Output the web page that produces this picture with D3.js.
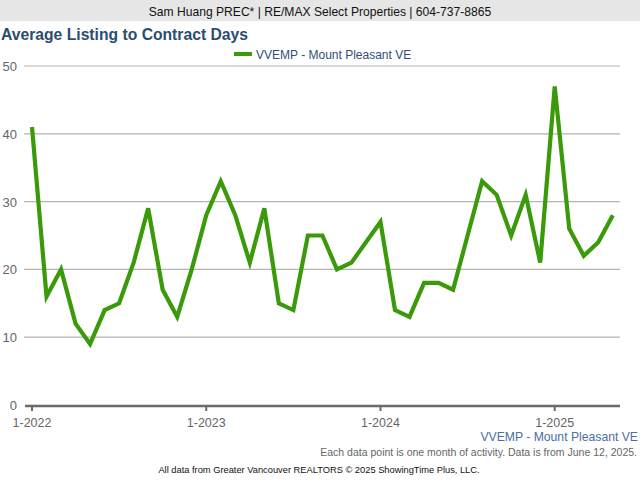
<!DOCTYPE html>
<html><head><meta charset="utf-8">
<script src="https://cdn.jsdelivr.net/npm/d3@7"></script>
<style>body{margin:0;background:#fff}svg{display:block;font-family:Arial,"Liberation Sans",sans-serif}</style>
</head><body><svg id="c" width="640" height="480"></svg>
<script>
const seriesName = "VVEMP - Mount Pleasant VE";
const startYear = 2022;
const values = [41,16,20,12,9,14,15,21,29,17,13,20,28,33,28,21,29,15,14,25,25,20,21,24,27,14,13,18,18,17,25,33,31,25,31,21,47,26,22,24,28];
const yTicks = [0,10,20,30,40,50];
const xTickLabels = ["1-2022","1-2023","1-2024","1-2025"];

(function(){
const svg = d3.select("#c");
const W = 640, H = 480;
const pLeft = 24, pRight = 620, pTop = 66, pBottom = 405;

svg.append("rect").attr("x",0).attr("y",0).attr("width",W).attr("height",21).attr("fill","#e6e6e6");
svg.append("text").attr("x",320).attr("y",15.5).attr("text-anchor","middle").attr("font-size",12.1).attr("fill","#111")
  .text("Sam Huang PREC* | RE/MAX Select Properties | 604-737-8865");
svg.append("text").attr("x",1).attr("y",40).attr("font-size",15.7).attr("font-weight","bold").attr("fill","#2b4d72")
  .text("Average Listing to Contract Days");
svg.append("rect").attr("x",234).attr("y",52).attr("width",18).attr("height",4).attr("fill","#3a9a0a");
svg.append("text").attr("x",256).attr("y",58.5).attr("font-size",12).attr("fill","#2f4f7a").text(seriesName);

const x = d3.scaleLinear().domain([0,41]).range([32, 32 + 41*14.52]);
const y = d3.scaleLinear().domain([0,50]).range([pBottom, pTop]);

const g = svg.append("g");
g.selectAll("line.grid").data(yTicks.filter(d=>d>0)).join("line").attr("class","grid")
  .attr("x1",pLeft).attr("x2",pRight).attr("y1",d=>y(d)).attr("y2",d=>y(d))
  .attr("stroke","#b4b4b4").attr("stroke-width",1.2);
g.selectAll("text.yl").data(yTicks).join("text").attr("class","yl")
  .attr("x",17).attr("y",d=>y(d)+5).attr("text-anchor","end").attr("font-size",13).attr("fill","#666").text(d=>d);

g.append("line").attr("x1",pLeft+1).attr("x2",pRight).attr("y1",pBottom+1).attr("y2",pBottom+1).attr("stroke","#6a6a6a").attr("stroke-width",2.5);
const tickIdx = xTickLabels.map((d,i)=>i*12);
g.selectAll("line.xt").data(tickIdx).join("line").attr("class","xt")
  .attr("x1",d=>x(d)).attr("x2",d=>x(d)).attr("y1",pBottom).attr("y2",pBottom+6).attr("stroke","#6a6a6a").attr("stroke-width",2);
g.selectAll("text.xl").data(xTickLabels).join("text").attr("class","xl")
  .attr("x",(d,i)=>x(i*12)).attr("y",pBottom+22).attr("text-anchor","middle").attr("font-size",12.5).attr("fill","#666").text(d=>d);

const line = d3.line().x((d,i)=>x(i)).y(d=>y(d));
g.append("path").datum(values).attr("d",line).attr("fill","none").attr("stroke","#3a9a0a").attr("stroke-width",4.2).attr("stroke-linejoin","miter");

svg.append("text").attr("x",638).attr("y",441).attr("text-anchor","end").attr("font-size",12.2).attr("fill","#4a70a4").text(seriesName);
svg.append("text").attr("x",637).attr("y",456).attr("text-anchor","end").attr("font-size",10.5).attr("fill","#666")
  .text("Each data point is one month of activity. Data is from June 12, 2025.");
svg.append("text").attr("x",319).attr("y",473).attr("text-anchor","middle").attr("font-size",9.3).attr("fill","#111")
  .text("All data from Greater Vancouver REALTORS \u00A9 2025 ShowingTime Plus, LLC.");
})();
</script></body></html>
